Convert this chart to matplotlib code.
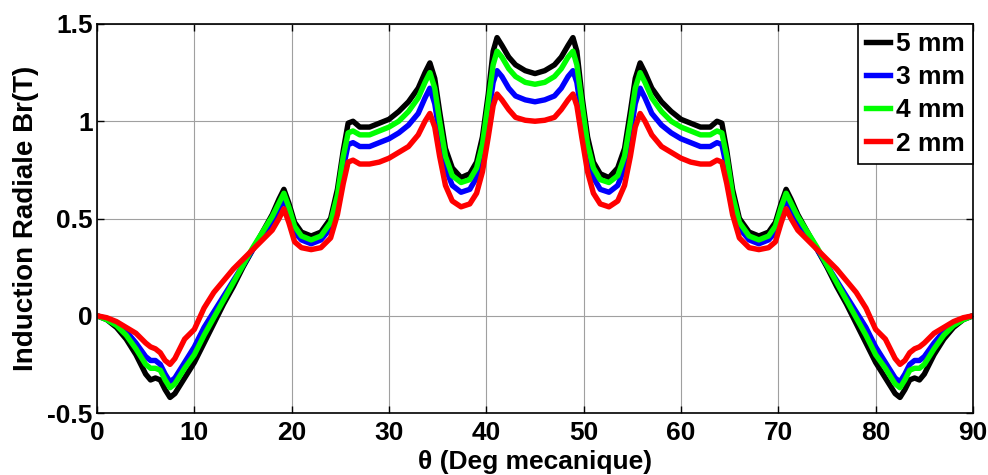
import matplotlib
matplotlib.use("Agg")
import matplotlib.pyplot as plt

# --- Data ---
theta = [
    0, 1, 2, 3, 4, 5, 5.5, 6, 6.5, 7, 7.5, 8, 8.5, 9, 10, 11, 12, 13, 14, 15,
    16, 17, 18, 18.7, 19.2, 19.7, 20.3, 21, 22, 23, 24, 24.7, 25.3, 25.8, 26.3,
    27, 28, 29, 30, 31, 32, 33, 33.7, 34.2, 34.7, 35.2, 35.8, 36.5, 37.4, 38.3,
    39, 39.6, 40.2, 40.7, 41.1, 41.6, 42.3, 43, 44, 45,
    46, 47, 47.7, 48.4, 48.9, 49.3, 49.8, 50.4, 51, 51.7, 52.6, 53.5, 54.2,
    54.8, 55.3, 55.8, 56.3, 57, 58, 59, 60, 61, 62, 63, 63.7, 64.2, 64.7, 65.3,
    66, 67, 68, 69, 69.7, 70.3, 70.8, 71.3, 72, 73, 74, 75, 76, 77, 78, 79, 80,
    81, 81.5, 82, 82.5, 83, 83.5, 84, 84.5, 85, 86, 87, 88, 89, 90,
]

br_5mm = [
    0, -0.02, -0.06, -0.12, -0.20, -0.30, -0.33, -0.32, -0.33, -0.38, -0.42,
    -0.40, -0.36, -0.32, -0.24, -0.14, -0.04, 0.06, 0.15, 0.25, 0.34, 0.43,
    0.52, 0.60, 0.65, 0.58, 0.48, 0.43, 0.41, 0.43, 0.50, 0.65, 0.85, 0.99,
    1.00, 0.97, 0.97, 0.99, 1.01, 1.05, 1.10, 1.17, 1.25, 1.30, 1.22, 1.05,
    0.86, 0.76, 0.71, 0.73, 0.79, 0.92, 1.14, 1.36, 1.43, 1.39, 1.33, 1.29,
    1.26, 1.245,
    1.26, 1.29, 1.33, 1.39, 1.43, 1.36, 1.14, 0.92, 0.79, 0.73, 0.71, 0.76,
    0.86, 1.05, 1.22, 1.30, 1.25, 1.17, 1.10, 1.05, 1.01, 0.99, 0.97, 0.97,
    1.00, 0.99, 0.85, 0.65, 0.50, 0.43, 0.41, 0.43, 0.48, 0.58, 0.65, 0.60,
    0.52, 0.43, 0.34, 0.25, 0.15, 0.06, -0.04, -0.14, -0.24, -0.32, -0.36,
    -0.40, -0.42, -0.38, -0.33, -0.32, -0.33, -0.30, -0.20, -0.12, -0.06,
    -0.02, 0,
]

br_3mm = [
    0, -0.015, -0.04, -0.08, -0.14, -0.21, -0.23, -0.23, -0.25, -0.30, -0.34,
    -0.32, -0.28, -0.24, -0.16, -0.06, 0.02, 0.10, 0.18, 0.26, 0.34, 0.41,
    0.48, 0.55, 0.60, 0.53, 0.43, 0.39, 0.37, 0.39, 0.45, 0.58, 0.76, 0.88,
    0.89, 0.87, 0.87, 0.89, 0.91, 0.94, 0.98, 1.04, 1.12, 1.17, 1.09, 0.93,
    0.76, 0.67, 0.635, 0.65, 0.71, 0.83, 1.03, 1.20, 1.26, 1.23, 1.17, 1.13,
    1.11, 1.10,
    1.11, 1.13, 1.17, 1.23, 1.26, 1.20, 1.03, 0.83, 0.71, 0.65, 0.635, 0.67,
    0.76, 0.93, 1.09, 1.17, 1.12, 1.04, 0.98, 0.94, 0.91, 0.89, 0.87, 0.87,
    0.89, 0.88, 0.76, 0.58, 0.45, 0.39, 0.37, 0.39, 0.43, 0.53, 0.60, 0.55,
    0.48, 0.41, 0.34, 0.26, 0.18, 0.10, 0.02, -0.06, -0.16, -0.24, -0.28,
    -0.32, -0.34, -0.30, -0.25, -0.23, -0.23, -0.21, -0.14, -0.08, -0.04,
    -0.015, 0,
]

br_4mm = [
    0, -0.02, -0.05, -0.10, -0.17, -0.25, -0.27, -0.27, -0.28, -0.33, -0.37,
    -0.35, -0.31, -0.27, -0.20, -0.10, -0.01, 0.08, 0.17, 0.26, 0.35, 0.43,
    0.51, 0.58, 0.63, 0.56, 0.46, 0.41, 0.39, 0.41, 0.48, 0.62, 0.82, 0.94,
    0.95, 0.93, 0.93, 0.95, 0.97, 1.00, 1.05, 1.12, 1.20, 1.25, 1.17, 1.00,
    0.82, 0.72, 0.685, 0.70, 0.76, 0.88, 1.10, 1.29, 1.36, 1.33, 1.27, 1.23,
    1.20, 1.19,
    1.20, 1.23, 1.27, 1.33, 1.36, 1.29, 1.10, 0.88, 0.76, 0.70, 0.685, 0.72,
    0.82, 1.00, 1.17, 1.25, 1.20, 1.12, 1.05, 1.00, 0.97, 0.95, 0.93, 0.93,
    0.95, 0.94, 0.82, 0.62, 0.48, 0.41, 0.39, 0.41, 0.46, 0.56, 0.63, 0.58,
    0.51, 0.43, 0.35, 0.26, 0.17, 0.08, -0.01, -0.10, -0.20, -0.27, -0.31,
    -0.35, -0.37, -0.33, -0.28, -0.27, -0.27, -0.25, -0.17, -0.10, -0.05,
    -0.02, 0,
]

br_2mm = [
    0, -0.01, -0.03, -0.06, -0.09, -0.14, -0.16, -0.17, -0.19, -0.23, -0.25,
    -0.22, -0.17, -0.12, -0.07, 0.04, 0.12, 0.18, 0.24, 0.29, 0.34, 0.39,
    0.44, 0.50, 0.55, 0.48, 0.38, 0.35, 0.34, 0.35, 0.40, 0.52, 0.68, 0.79,
    0.80, 0.78, 0.78, 0.79, 0.81, 0.84, 0.87, 0.93, 1.00, 1.04, 0.97, 0.82,
    0.67, 0.59, 0.56, 0.575, 0.63, 0.74, 0.92, 1.08, 1.14, 1.11, 1.06, 1.02,
    1.005, 1.00,
    1.005, 1.02, 1.06, 1.11, 1.14, 1.08, 0.92, 0.74, 0.63, 0.575, 0.56, 0.59,
    0.67, 0.82, 0.97, 1.04, 1.00, 0.93, 0.87, 0.84, 0.81, 0.79, 0.78, 0.78,
    0.80, 0.79, 0.68, 0.52, 0.40, 0.35, 0.34, 0.35, 0.38, 0.48, 0.55, 0.50,
    0.44, 0.39, 0.34, 0.29, 0.24, 0.18, 0.12, 0.04, -0.07, -0.12, -0.17,
    -0.22, -0.25, -0.23, -0.19, -0.17, -0.16, -0.14, -0.09, -0.06, -0.03,
    -0.01, 0,
]

series = [
    ("5 mm", br_5mm, "black"),
    ("3 mm", br_3mm, "#0000ff"),
    ("4 mm", br_4mm, "#00ff00"),
    ("2 mm", br_2mm, "#ff0000"),
]

x_ticks = [0, 10, 20, 30, 40, 50, 60, 70, 80, 90]
y_ticks = [-0.5, 0, 0.5, 1, 1.5]
y_tick_labels = ["-0.5", "0", "0.5", "1", "1.5"]

# --- Plotting ---
plt.rcParams["font.family"] = ["Liberation Sans", "DejaVu Sans"]
plt.rcParams["font.weight"] = "bold"

fig = plt.figure(figsize=(9.88, 4.75), dpi=100)
ax = fig.add_axes([0.0982, 0.1305, 0.8866, 0.819])

for label, values, color in series:
    ax.plot(theta, values, color=color, linewidth=3.9, label=label,
            solid_joinstyle="round")

ax.set_xlim(0, 90)
ax.set_ylim(-0.5, 1.5)
ax.set_xticks(x_ticks)
ax.set_yticks(y_ticks)
ax.set_yticklabels(y_tick_labels)
ax.tick_params(direction="in", top=True, right=True, labelsize=19,
               length=5, width=1)
ax.tick_params(axis="x", pad=6)
ax.tick_params(axis="y", pad=3)
for lbl in ax.get_xticklabels() + ax.get_yticklabels():
    lbl.set_fontweight("bold")

ax.grid(True, color="#a0a0a0", linewidth=0.8)
for spine in ax.spines.values():
    spine.set_linewidth(1.2)

ax.set_xlabel("\u03b8 (Deg mecanique)", fontsize=19, fontweight="bold",
              labelpad=3)
ax.set_ylabel("Induction Radiale Br(T)", fontsize=20, fontweight="bold",
              labelpad=6)

leg = ax.legend(loc="upper right", frameon=True, fancybox=False,
                edgecolor="black", framealpha=1, handlelength=0.9,
                borderaxespad=0, borderpad=0.3, labelspacing=0.35,
                handletextpad=0.25, prop={"weight": "bold", "size": 19})
leg.get_frame().set_linewidth(1.2)

fig.savefig("out.png", dpi=100)
